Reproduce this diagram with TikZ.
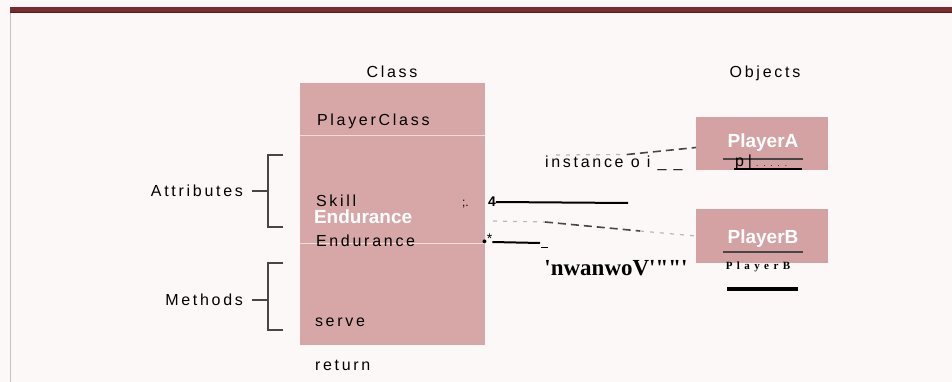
\documentclass[tikz,border=0pt]{standalone}
\usepackage{fontspec}
\setmainfont{Liberation Sans}
\newfontfamily\lblfont[LetterSpace=17]{Liberation Sans}
\newfontfamily\scanserif{Liberation Serif}
\newfontfamily\scanspaced[LetterSpace=40]{Liberation Serif}
\usepackage{xcolor}
\definecolor{pagebg}{RGB}{253, 248, 248}
\definecolor{boxpink}{RGB}{215, 167, 167}
\definecolor{objpink}{RGB}{212, 162, 163}
\definecolor{topbar}{RGB}{122, 44, 44}
\definecolor{framegrey}{RGB}{200, 192, 192}
\definecolor{sepline}{RGB}{240, 222, 214}
\definecolor{inkgrey}{RGB}{70, 70, 70}
\definecolor{faintgrey}{RGB}{190, 182, 182}
\usetikzlibrary{positioning, calc}

\begin{document}
\begin{tikzpicture}[x=1pt, y=-1pt, every node/.style={inner sep=0pt, outer sep=0pt},
    lbl/.style={font=\fontsize{16}{18}\selectfont\lblfont, text=black},
    whitebold/.style={font=\fontsize{19}{21}\selectfont\bfseries, text=white},
    bracket/.style={draw=inkgrey, line width=1.4pt},
    inkline/.style={draw=black, line width=2pt},
    darkdash/.style={draw=inkgrey, line width=1.6pt, dash pattern=on 8pt off 5pt},
    faintdash/.style={draw=faintgrey, line width=1.2pt, dash pattern=on 4pt off 6pt}]

    % page and frame
    \fill[pagebg] (0,0) rectangle (952,382);
    \useasboundingbox (0,0) rectangle (952,382);
    \fill[topbar] (10,7) rectangle (952,13);
    \draw[topbar!70!black, line width=1pt] (10,12.5) -- (952,12.5);
    \draw[framegrey, line width=1pt] (10.5,13) -- (10.5,382);

    % headings
    \node [lbl] (classhead) at (392,72) {Class};
    \node [lbl] (objhead) at (765,73) {Objects};

    % class box
    \node [fill=boxpink, minimum width=185, minimum height=262, anchor=north west] (cls) at (300,83) {};
    \draw [sepline, line width=1pt] ($(cls.north west)+(0,53)$) -- ($(cls.north east)+(0,53)$);
    \draw [sepline, line width=1pt] ($(cls.north west)+(0,160)$) -- ($(cls.north east)+(0,160)$);

    \node [lbl, anchor=west] (clsname) at (317,121) {PlayerClass};
    \node [lbl, anchor=west] (skill) at (316,201) {Skill};
    \node [whitebold, anchor=west] (endwhite) at (314,217) {Endurance};
    \node [lbl, anchor=west] (endur) at (316,241) {Endurance};
    \node [lbl, anchor=west] (serve) at (315,322) {serve};
    \node [lbl, anchor=west] (ret) at (315,365) {return};
    \node [font=\fontsize{12}{13}\selectfont, anchor=west] (semi) at (462,204) {;.};

    % brackets
    \node [lbl, anchor=east] (attr) at (243,191) {Attributes};
    \node [lbl, anchor=east] (meth) at (243,300) {Methods};
    \coordinate (attrtop) at (283,155);
    \coordinate (attrbot) at (283,227);
    \coordinate (methtop) at (283,263);
    \coordinate (methbot) at (283,330);
    \draw [bracket] (attrtop) -- ++(-15,0) -- ++(0,72) -- (attrbot);
    \draw [bracket] (methtop) -- ++(-15,0) -- ++(0,67) -- (methbot);
    \draw [bracket] ([xshift=9pt]attr.east) -- ++(16,0);
    \draw [bracket] ([xshift=9pt]meth.east) -- ++(16,0);

    % objects
    \node [fill=objpink, minimum width=132, minimum height=53, anchor=north west] (pa) at (696,117) {};
    \node [fill=objpink, minimum width=132, minimum height=54, anchor=north west] (pb) at (696,209) {};
    \node [whitebold] (palbl) at (763,143) {PlayerA};
    \node [whitebold] (pblbl) at (763,239) {PlayerB};
    \draw [inkgrey, line width=1.2pt] (723,159) -- (803,159);
    \draw [inkgrey, line width=1.2pt] (723,252) -- (803,252);
    \node [font=\fontsize{16}{18}\selectfont, anchor=base west] (pasub) at (735,166.5) {p\hspace{4pt}|\hspace{4pt}{\fontsize{8}{9}\selectfont .\hspace{5pt}.\hspace{5pt}.\hspace{5pt}.\hspace{5pt}.}};
    \draw [inkline] (734,169.5) -- (802,169.5);
    \node [font=\fontsize{11}{12}\selectfont\scanspaced\bfseries] (pbname) at (758,267) {PlayerB};
    \coordinate (barleft) at (727,289);
    \coordinate (barright) at (798,289);
    \draw [line width=3.5pt] (barleft) -- (barright);

    % instance labels and leftovers
    \node [lbl, anchor=west] (inst) at (545,163) {instance o i \_ \_};
    \node [font=\fontsize{23}{25}\selectfont\scanserif\bfseries] (junk) at (616,268) {'nwanwoV'""'};
    \node [font=\fontsize{14}{15}\selectfont\bfseries, anchor=west] (four) at (488,202) {4};
    \node [font=\fontsize{14}{15}\selectfont, anchor=west] (dotstar) at (482,240) {\textbullet\raisebox{3pt}{*}};
    \coordinate (fourend) at (628,203);
    \coordinate (dotend) at (540,243);
    \draw [inkline] (four.east) -- (fourend);
    \draw [inkline] ([yshift=-2pt]dotstar.east) -- (dotend);
    \draw [black, line width=1pt] ([xshift=1pt, yshift=-4pt]dotend) -- ++(7,0);

    % dashed connectors
    \coordinate (upA) at (556,155);
    \coordinate (upB) at (627,154.5);
    \coordinate (loA) at (493,221);
    \coordinate (loB) at (545,222);
    \coordinate (loC) at (640,231);
    \draw [faintdash] (upA) -- (upB);
    \draw [darkdash] (upB) -- ([yshift=-4pt]pa.west);
    \draw [faintdash] (loA) -- (loB);
    \draw [darkdash] (loB) -- (loC);
    \draw [faintdash] (loC) -- (pb.west);
\end{tikzpicture}
\end{document}
